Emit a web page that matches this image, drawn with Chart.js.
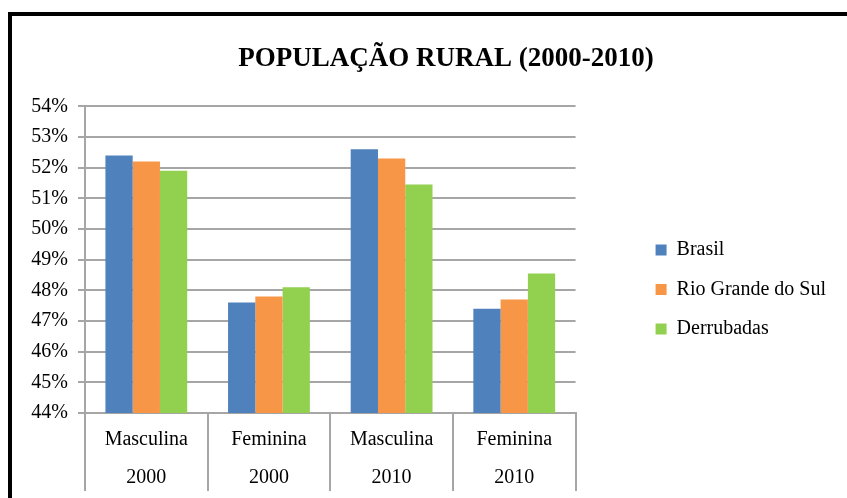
<!DOCTYPE html>
<html lang="pt-br">
<head>
    <meta charset="UTF-8">
    <title>População Rural (2000-2010)</title>
    <script src="https://cdn.jsdelivr.net/npm/chart.js"></script>
    <style>
        body {
            margin: 0;
            background: #fff;
            overflow: hidden;
        }
        .frame {
            position: absolute;
            left: 8px;
            top: 12px;
            border-top: 4px solid #000;
            border-left: 4px solid #000;
        }
        .chart-box {
            position: relative;
            width: 868px;
            height: 482px;
        }
    </style>
</head>
<body>
    <div class="frame">
        <div class="chart-box">
            <canvas id="ruralChart"></canvas>
        </div>
    </div>

    <script>
        // dados (%)
        const sexos = ['Masculina', 'Feminina', 'Masculina', 'Feminina'];
        const anos = ['2000', '2000', '2010', '2010'];
        const brasil = [52.4, 47.6, 52.6, 47.4];
        const rioGrandeDoSul = [52.2, 47.8, 52.3, 47.7];
        const derrubadas = [51.9, 48.1, 51.45, 48.55];
        const yTicks = [44, 45, 46, 47, 48, 49, 50, 51, 52, 53, 54];

        const fonte = 'Liberation Serif, Times New Roman, serif';
        const cinza = '#a6a6a6';

        const labels = sexos.map((s, i) => [s, anos[i]]);

        // eixo invisível usado só como espaçamento
        function espacador(largura, peso) {
            return {
                position: 'right',
                weight: peso,
                grid: { display: false },
                border: { display: false },
                ticks: { display: false },
                afterFit: (axis) => { axis.width = largura; }
            };
        }

        const ctx = document.getElementById('ruralChart').getContext('2d');
        const ruralChart = new Chart(ctx, {
            type: 'bar',
            data: {
                labels: labels,
                datasets: [
                    { label: 'Brasil', data: brasil, backgroundColor: '#4f81bd' },
                    { label: 'Rio Grande do Sul', data: rioGrandeDoSul, backgroundColor: '#f79646' },
                    { label: 'Derrubadas', data: derrubadas, backgroundColor: '#92d050' }
                ]
            },
            options: {
                responsive: true,
                maintainAspectRatio: false,
                animation: false,
                layout: { padding: { left: 0, right: 0, top: 0, bottom: 1 } },
                datasets: {
                    bar: { categoryPercentage: 0.667, barPercentage: 1.0, borderWidth: 0 }
                },
                plugins: {
                    tooltip: { enabled: false },
                    title: {
                        display: true,
                        text: 'POPULAÇÃO RURAL (2000-2010)',
                        color: '#000',
                        font: { family: fonte, size: 27, weight: 'bold' },
                        padding: { top: 27, bottom: 31 }
                    },
                    legend: {
                        position: 'right',
                        align: 'center',
                        maxWidth: 230,
                        // título vazio só para descer os itens
                        title: { display: true, text: '', font: { size: 12 }, padding: { top: 0, bottom: 51.6 } },
                        labels: {
                            boxWidth: 11,
                            boxHeight: 11,
                            padding: 19.5,
                            color: '#000',
                            font: { family: fonte, size: 20 }
                        }
                    }
                },
                scales: {
                    x: {
                        afterFit: (axis) => { axis.height = 84; },
                        grid: {
                            drawOnChartArea: false,
                            drawTicks: true,
                            tickLength: 78,
                            color: cinza,
                            lineWidth: 2
                        },
                        border: { color: cinza, width: 2 },
                        ticks: {
                            color: '#000',
                            padding: -70,
                            maxRotation: 0,
                            autoSkip: false,
                            font: { family: fonte, size: 20, lineHeight: 1.9 }
                        }
                    },
                    y: {
                        min: yTicks[0],
                        max: yTicks[yTicks.length - 1],
                        afterFit: (axis) => { axis.width = 73; },
                        afterBuildTicks: (axis) => { axis.ticks = yTicks.map(v => ({ value: v })); },
                        grid: { color: cinza, lineWidth: 2, tickLength: 7 },
                        border: { color: cinza, width: 2 },
                        ticks: {
                            color: '#000',
                            padding: 10,
                            font: { family: fonte, size: 20 },
                            callback: (v) => v + '%'
                        }
                    },
                    espaco: espacador(60.5, 0),
                    margem: espacador(44, 2000)
                }
            }
        });
    </script>
</body>
</html>
